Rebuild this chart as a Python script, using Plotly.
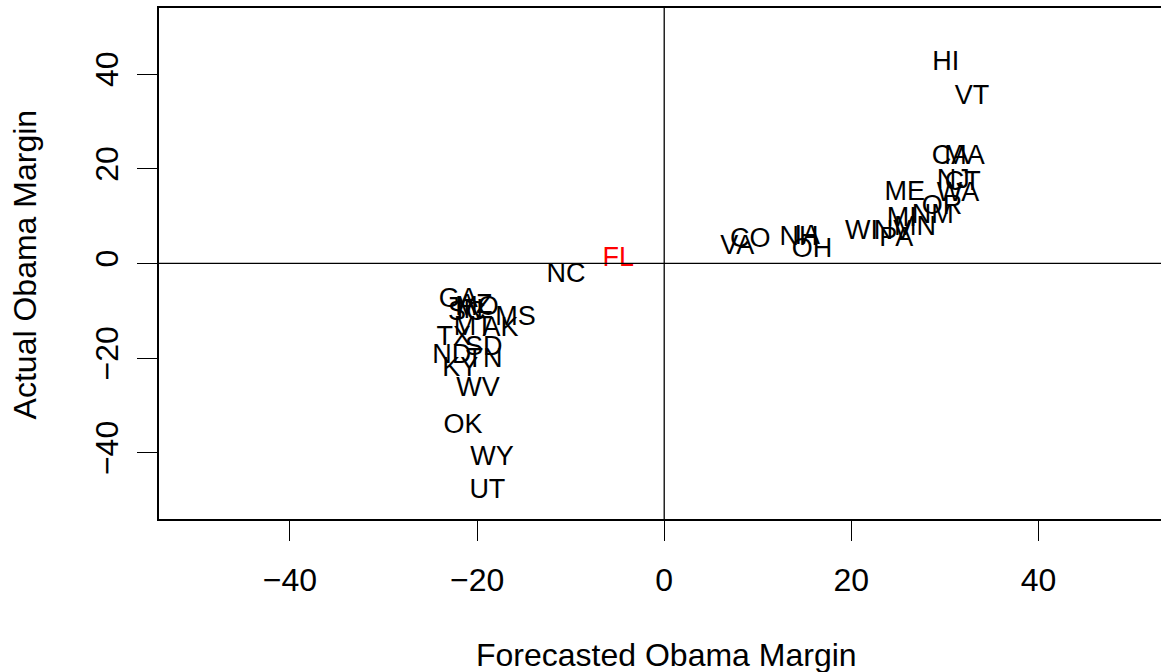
import plotly.graph_objects as go

states = ["HI","VT","CA","MA","NJ","CT","WA","ME","OR","NM","MI","MN","NV","WI","PA",
          "IA","NH","OH","CO","VA","NC","FL","GA","AZ","MO","IN","SC","MS","MT","AK",
          "TX","ND","SD","TN","KY","WV","OK","WY","UT"]
forecast = [30.1, 32.9, 30.6, 32.1, 30.9, 31.9, 31.4, 25.7, 29.7, 28.7, 25.4, 26.8, 24.4, 21.1, 24.8,
            15.3, 14.4, 15.8, 9.2, 7.8, -10.5, -4.9, -22.0, -20.2, -20.0, -20.8, -21.1, -15.9, -20.4, -17.5,
            -22.5, -22.7, -19.3, -19.2, -21.8, -19.9, -21.5, -18.4, -18.9]
actual = [42.3, 35.2, 22.5, 22.5, 17.3, 16.9, 14.7, 14.8, 11.8, 10.0, 9.3, 7.5, 6.5, 6.6, 5.1,
          5.5, 5.3, 2.7, 4.8, 3.4, -2.5, 0.8, -7.8, -9.1, -9.4, -10.2, -10.5, -11.5, -13.6, -14.0,
          -15.8, -19.6, -18.0, -20.4, -22.4, -26.5, -34.3, -41.1, -48.1]
highlight = "FL"
tick_vals = [-40, -20, 0, 20, 40]

FONT = "Liberation Sans, Arial, Helvetica, sans-serif"
FS_AXIS = 32
FS_TEXT = 27
colors = ["red" if s == highlight else "black" for s in states]

fig = go.Figure()
fig.add_trace(go.Scatter(
    x=forecast, y=actual, text=states, mode="text",
    textposition="middle center",
    textfont=dict(family=FONT, size=FS_TEXT, color=colors),
    hoverinfo="skip", showlegend=False,
))

fig.add_hline(y=0, line=dict(color="black", width=1.3))
fig.add_vline(x=0, line=dict(color="black", width=1.3))

fig.update_layout(
    width=1161, height=672,
    margin=dict(l=159, r=0, t=8, b=153),
    paper_bgcolor="white", plot_bgcolor="white",
    font=dict(family=FONT, size=FS_AXIS, color="black"),
    xaxis=dict(range=[-54.0, 53.1], tickvals=tick_vals, showgrid=False, zeroline=False,
               showline=True, mirror=True, linecolor="black", linewidth=2,
               ticks="outside", ticklen=20, tickwidth=1.3, tickcolor="black",
               tickfont=dict(family=FONT, size=FS_AXIS), ticklabelstandoff=12),
    yaxis=dict(range=[-54.0, 53.95], tickvals=tick_vals, showgrid=False, zeroline=False,
               showline=True, mirror=False, linecolor="black", linewidth=2,
               ticks="outside", ticklen=20, tickwidth=1.3, tickcolor="black",
               tickangle=-90, tickfont=dict(family=FONT, size=FS_AXIS), ticklabelstandoff=6),
)

fig.add_annotation(text="Forecasted Obama Margin", xref="x", yref="paper", x=0, y=0,
                   yshift=-136, xshift=2, xanchor="center", yanchor="middle", showarrow=False,
                   font=dict(family=FONT, size=FS_AXIS, color="black"))
fig.add_annotation(text="Actual Obama Margin", xref="paper", yref="y", x=0, y=0,
                   xshift=-134, yshift=-2, xanchor="center", yanchor="middle", textangle=-90,
                   showarrow=False, font=dict(family=FONT, size=FS_AXIS, color="black"))

fig.write_html("out.html")
